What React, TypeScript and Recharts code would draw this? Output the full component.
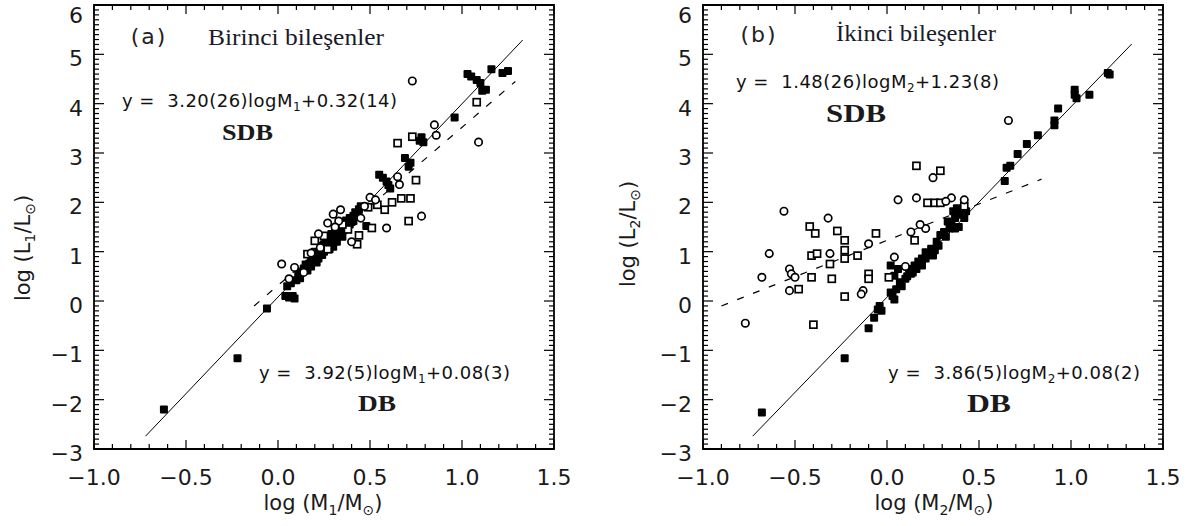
import {
  ReferenceArea,
  ReferenceLine,
  Scatter,
  ScatterChart,
  XAxis,
  YAxis,
} from 'recharts';

// ─── Axis ticks ───────────────────────────────────────────────────────────────

const X_MAJOR = [-1.0, -0.5, 0.0, 0.5, 1.0, 1.5];
const X_LABELS = ['−1.0', '−0.5', '0.0', '0.5', '1.0', '1.5'];
const Y_MAJOR = [-3, -2, -1, 0, 1, 2, 3, 4, 5, 6];
const Y_LABELS = ['−3', '−2', '−1', '0', '1', '2', '3', '4', '5', '6'];

function minorTicks(from: number, to: number, step: number): number[] {
  const n = Math.round((to - from) / step);
  return Array.from({ length: n + 1 }, (_, i) => Math.round((from + i * step) * 100) / 100);
}

const X_TICKS = minorTicks(-1.0, 1.5, 0.1);
const Y_TICKS = minorTicks(-3, 6, 0.1);

// ─── (a) Birinci bileşenler ──────────────────────────────────────────────────

const PRIMARY_DB: [number, number][] = [
  [-0.62, -2.2], [-0.22, -1.16], [-0.06, -0.15],
  [0.04, 0.1], [0.06, 0.07], [0.08, 0.1], [0.09, 0.05], [0.05, 0.3], [0.07, 0.36],
  [0.1, 0.42], [0.12, 0.46], [0.11, 0.56], [0.13, 0.6], [0.14, 0.66], [0.16, 0.62],
  [0.15, 0.74], [0.17, 0.76], [0.18, 0.83], [0.19, 0.9], [0.2, 0.86], [0.21, 0.96],
  [0.2, 1.0], [0.22, 0.86], [0.23, 1.05], [0.24, 0.93], [0.24, 1.12], [0.25, 1.0],
  [0.26, 1.2], [0.27, 1.14], [0.28, 1.28], [0.28, 1.05], [0.29, 1.36], [0.3, 1.22],
  [0.3, 1.1], [0.31, 1.4], [0.32, 1.3], [0.32, 1.2], [0.33, 1.46], [0.34, 1.52],
  [0.35, 1.42], [0.35, 1.3], [0.36, 1.56], [0.37, 1.63], [0.38, 1.5], [0.39, 1.68],
  [0.4, 1.6], [0.41, 1.73], [0.42, 1.8], [0.43, 1.76], [0.44, 1.86], [0.45, 1.92],
  [0.48, 1.52], [0.18, 0.7], [0.26, 1.08], [0.29, 1.18], [0.34, 1.38], [0.39, 1.55],
  [0.21, 0.78], [0.25, 1.15], [0.31, 1.28], [0.36, 1.45], [0.41, 1.62],
  [0.55, 2.56], [0.57, 2.5], [0.59, 2.42], [0.6, 2.35], [0.61, 2.28], [0.69, 2.9],
  [0.71, 2.72], [0.72, 2.8], [0.77, 3.25], [0.78, 3.32], [0.79, 3.22], [0.96, 3.72],
  [1.03, 4.6], [1.05, 4.55], [1.08, 4.48], [1.1, 4.42], [1.11, 4.26], [1.13, 4.28],
  [1.16, 4.7], [1.22, 4.62], [1.25, 4.66],
];

const PRIMARY_SDB_SQUARES: [number, number][] = [
  [0.65, 3.2], [0.73, 3.33], [0.75, 2.45], [0.67, 2.08], [0.72, 2.08], [0.71, 1.62],
  [0.51, 1.48], [0.54, 1.95], [0.43, 1.15], [1.08, 4.03], [0.44, 1.33], [0.38, 1.45],
  [0.25, 1.32], [0.2, 1.22], [0.16, 0.95], [0.49, 1.9], [0.58, 1.85], [0.62, 2.0],
  [0.35, 1.55], [0.27, 1.05],
];

const PRIMARY_SDB_CIRCLES: [number, number][] = [
  [0.02, 0.75], [0.73, 4.46], [1.09, 3.22], [0.85, 3.57], [0.86, 3.36], [0.65, 2.52],
  [0.66, 2.36], [0.78, 1.72], [0.59, 1.48], [0.5, 2.1], [0.4, 1.2], [0.34, 1.85],
  [0.27, 1.58], [0.22, 1.36], [0.23, 1.08], [0.47, 1.92], [0.53, 2.05], [0.45, 1.68],
  [0.3, 1.76], [0.33, 1.62], [0.14, 0.58], [0.09, 0.68], [0.18, 0.97], [0.06, 0.45],
  [0.31, 1.5],
];

// fit lines: DB y = 3.92x+0.08, SDB y = 3.20x+0.32
const PRIMARY_DB_FIT: [number, number][] = [[-0.72, -2.74], [1.33, 5.29]];
const PRIMARY_SDB_FIT: [number, number][] = [[-0.13, -0.1], [1.29, 4.45]];

// ─── (b) İkinci bileşenler ───────────────────────────────────────────────────

const SECONDARY_DB: [number, number][] = [
  [-0.68, -2.26], [-0.23, -1.16], [-0.1, -0.55], [-0.07, -0.34], [-0.04, -0.1],
  [-0.05, -0.17], [-0.03, -0.2],
  [0.02, 0.17], [0.03, 0.1], [0.04, 0.03], [0.05, 0.24], [0.02, 0.72], [0.04, 0.51],
  [0.07, 0.38], [0.06, 0.65], [0.1, 0.45], [0.12, 0.65], [0.15, 0.72], [0.16, 0.65],
  [0.14, 0.58], [0.19, 0.86], [0.19, 0.72], [0.21, 0.99], [0.21, 0.86], [0.24, 1.06],
  [0.25, 0.92], [0.26, 1.03], [0.27, 1.2], [0.29, 1.34], [0.31, 1.4], [0.33, 1.61],
  [0.34, 1.47], [0.35, 1.54], [0.36, 1.82], [0.37, 1.68], [0.37, 1.47], [0.38, 1.88],
  [0.39, 1.5], [0.4, 1.75], [0.42, 1.68], [0.43, 1.82], [0.08, 0.3], [0.11, 0.5],
  [0.17, 0.8], [0.23, 0.95], [0.28, 1.12], [0.32, 1.3], [0.13, 0.55],
  [0.64, 2.43], [0.65, 2.7], [0.67, 2.74], [0.71, 2.98], [0.76, 3.18], [0.82, 3.36],
  [0.91, 3.66], [0.91, 3.56], [0.93, 3.9], [1.02, 4.18], [1.02, 4.28], [1.03, 4.11],
  [1.1, 4.18], [1.2, 4.62], [1.21, 4.59],
];

const SECONDARY_SDB_SQUARES: [number, number][] = [
  [-0.48, 0.24], [-0.42, 1.51], [-0.39, 1.37], [-0.41, 0.92], [-0.38, 0.96],
  [-0.41, 0.48], [-0.4, -0.48], [-0.31, 0.75], [-0.3, 0.45], [-0.27, 1.42],
  [-0.23, 1.23], [-0.23, 1.03], [-0.23, 0.86], [-0.16, 0.92], [-0.23, 0.09],
  [-0.06, 1.37], [-0.1, 0.55], [-0.1, 0.45], [0.01, 0.48], [0.15, 1.23], [0.16, 2.74],
  [0.22, 1.99], [0.29, 2.64], [0.26, 1.99], [0.29, 1.99], [0.42, 1.92],
];

const SECONDARY_SDB_CIRCLES: [number, number][] = [
  [-0.77, -0.45], [-0.68, 0.48], [-0.64, 0.96], [-0.56, 1.82], [-0.53, 0.65],
  [-0.52, 0.55], [-0.5, 0.48], [-0.53, 0.21], [-0.32, 1.68], [-0.31, 0.96],
  [-0.13, 0.21], [-0.14, 0.14], [-0.1, 1.16], [0.04, 0.89], [0.06, 2.05], [0.13, 1.4],
  [0.16, 2.09], [0.21, 1.47], [0.25, 2.5], [0.35, 2.09], [0.32, 2.02], [0.42, 2.05],
  [0.66, 3.66], [0.18, 1.55], [0.1, 0.7],
];

// fit lines: DB y = 3.86x+0.08, SDB y = 1.48x+1.23
const SECONDARY_DB_FIT: [number, number][] = [[-0.73, -2.74], [1.33, 5.21]];
const SECONDARY_SDB_FIT: [number, number][] = [[-0.9, -0.1], [0.84, 2.47]];

// ─── Layout ──────────────────────────────────────────────────────────────────

const CHART_H = 526;
const PLOT_W = 460;
const PLOT_H = 444;
const TICK_FONT = '"DejaVu Sans", sans-serif';
const SERIF = '"Liberation Serif", "Times New Roman", serif';
const INK = '#111';

const toPoints = (rows: [number, number][]) => rows.map(([x, y]) => ({ x, y }));
const toSegment = (rows: [number, number][]) => rows.map(([x, y]) => ({ x, y }));

function isMajor(v: number, list: number[]): number {
  return list.findIndex((m) => Math.abs(m - v) < 1e-6);
}

function XTick(props: any) {
  const { x, y, payload } = props;
  const idx = isMajor(payload.value, X_MAJOR);
  const len = idx >= 0 ? 9 : 5;
  return (
    <g>
      <line x1={x} x2={x} y1={y} y2={y - len} stroke="#000" strokeWidth={1.2} />
      <line x1={x} x2={x} y1={y - PLOT_H} y2={y - PLOT_H + len} stroke="#000" strokeWidth={1.2} />
      {idx >= 0 && (
        <text x={x} y={y + 36} textAnchor="middle" fontFamily={TICK_FONT} fontSize={22} fill="#1a1a1a">
          {X_LABELS[idx]}
        </text>
      )}
    </g>
  );
}

function YTick(props: any) {
  const { x, y, payload } = props;
  const idx = isMajor(payload.value, Y_MAJOR);
  const len = idx >= 0 ? 10 : 5;
  // keep the top label ("6") inside the picture
  const labelY = Math.max(y + 12, 23);
  return (
    <g>
      <line x1={x} x2={x + len} y1={y} y2={y} stroke="#000" strokeWidth={1.2} />
      <line x1={x + PLOT_W} x2={x + PLOT_W - len} y1={y} y2={y} stroke="#000" strokeWidth={1.2} />
      {idx >= 0 && (
        <text x={x - 11} y={labelY} textAnchor="end" fontFamily={TICK_FONT} fontSize={22} fill="#1a1a1a">
          {Y_LABELS[idx]}
        </text>
      )}
    </g>
  );
}

const FilledMark = (p: any) => (
  <rect x={p.cx - 4} y={p.cy - 4} width={8} height={8} rx={1} fill="#000" />
);
const OpenSquare = (p: any) => (
  <rect x={p.cx - 3.5} y={p.cy - 3.5} width={7} height={7} fill="#fff" stroke="#000" strokeWidth={1.7} />
);
const OpenCircle = (p: any) => (
  <circle cx={p.cx} cy={p.cy} r={3.7} fill="#fff" stroke="#000" strokeWidth={1.7} />
);

interface PanelProps {
  left: number;
  width: number;
  marginLeft: number;
  db: [number, number][];
  sdbSquares: [number, number][];
  sdbCircles: [number, number][];
  dbFit: [number, number][];
  sdbFit: [number, number][];
}

function Panel(p: PanelProps) {
  const marginRight = p.width - p.marginLeft - 60 - PLOT_W;
  return (
    <div style={{ position: 'absolute', left: p.left, top: 0 }}>
      <ScatterChart
        width={p.width}
        height={CHART_H}
        margin={{ top: 5, right: marginRight, bottom: 31, left: p.marginLeft }}
      >
        <XAxis
          type="number"
          dataKey="x"
          domain={[-1, 1.5]}
          ticks={X_TICKS}
          interval={0}
          allowDataOverflow
          axisLine={false}
          tickLine={false}
          tickSize={0}
          tickMargin={0}
          height={46}
          tick={(t: any) => <XTick {...t} />}
        />
        <YAxis
          type="number"
          dataKey="y"
          domain={[-3, 6]}
          ticks={Y_TICKS}
          interval={0}
          allowDataOverflow
          axisLine={false}
          tickLine={false}
          tickSize={0}
          tickMargin={0}
          width={60}
          tick={(t: any) => <YTick {...t} />}
        />
        <ReferenceArea x1={-1} x2={1.5} y1={-3} y2={6} fill="none" stroke="#000" strokeWidth={1.8} />
        <ReferenceLine segment={toSegment(p.dbFit)} stroke="#000" strokeWidth={1} />
        <ReferenceLine
          segment={toSegment(p.sdbFit)}
          stroke="#000"
          strokeWidth={1.2}
          strokeDasharray="7 10"
        />
        <Scatter data={toPoints(p.db)} shape={FilledMark} isAnimationActive={false} />
        <Scatter data={toPoints(p.sdbSquares)} shape={OpenSquare} isAnimationActive={false} />
        <Scatter data={toPoints(p.sdbCircles)} shape={OpenCircle} isAnimationActive={false} />
      </ScatterChart>
    </div>
  );
}

// ─── Annotations (panel-local pixels) ─────────────────────────────────────────

const SUB = { dy: 5, fontSize: 14 };

function AxisTitles({ idx, yx, yy, xx }: { idx: string; yx: number; yy: number; xx: number }) {
  return (
    <>
      <text
        x={yx}
        y={yy}
        transform={`rotate(-90, ${yx}, ${yy})`}
        textAnchor="middle"
        fontFamily={TICK_FONT}
        fontSize={21}
        fill="#1a1a1a"
      >
        log  (L<tspan dy={SUB.dy} fontSize={SUB.fontSize}>{idx}</tspan>
        <tspan dy={-SUB.dy}>/L</tspan>
        <tspan dy={SUB.dy} fontSize={SUB.fontSize}>⊙</tspan>
        <tspan dy={-SUB.dy}>)</tspan>
      </text>
      <text x={xx} y={510} textAnchor="middle" fontFamily={TICK_FONT} fontSize={21} fill="#1a1a1a">
        log  (M<tspan dy={SUB.dy} fontSize={SUB.fontSize}>{idx}</tspan>
        <tspan dy={-SUB.dy}>/M</tspan>
        <tspan dy={SUB.dy} fontSize={SUB.fontSize}>⊙</tspan>
        <tspan dy={-SUB.dy}>)</tspan>
      </text>
    </>
  );
}

interface EquationProps {
  x: number;
  y: number;
  width: number;
  pre: string;
  idx: string;
  post: string;
}

function Equation({ x, y, width, pre, idx, post }: EquationProps) {
  return (
    <text
      x={x}
      y={y}
      fontFamily={TICK_FONT}
      fontSize={18}
      fill={INK}
      xmlSpace="preserve"
      textLength={width}
      lengthAdjust="spacing"
    >
      {pre}
      <tspan dy={4} fontSize={12}>{idx}</tspan>
      <tspan dy={-4}>{post}</tspan>
    </text>
  );
}

function LeftNotes() {
  return (
    <svg width={596} height={CHART_H} style={{ position: 'absolute', left: 0, top: 0, pointerEvents: 'none' }}>
      <text x={149} y={44} textAnchor="middle" fontFamily={TICK_FONT} fontSize={22} fill="#222" letterSpacing={2}>
        (a)
      </text>
      <text x={208} y={45} fontFamily={SERIF} fontSize={23} fill="#1a1a2a" textLength={176} lengthAdjust="spacingAndGlyphs">
        Birinci bileşenler
      </text>
      <Equation x={122} y={107} width={275} pre="y =  3.20(26)logM" idx="1" post="+0.32(14)" />
      <text x={222} y={140} fontFamily={SERIF} fontSize={24} fontWeight="bold" fill="#1a1a1a" textLength={51} lengthAdjust="spacingAndGlyphs">
        SDB
      </text>
      <Equation x={259} y={379} width={251} pre="y =  3.92(5)logM" idx="1" post="+0.08(3)" />
      <text x={358} y={411} fontFamily={SERIF} fontSize={24} fontWeight="bold" fill="#1a1a1a" textLength={38} lengthAdjust="spacingAndGlyphs">
        DB
      </text>
      <AxisTitles idx="1" yx={30} yy={248} xx={323} />
    </svg>
  );
}

function RightNotes() {
  return (
    <svg width={597} height={CHART_H} style={{ position: 'absolute', left: 596, top: 0, pointerEvents: 'none' }}>
      <text x={163} y={42} textAnchor="middle" fontFamily={TICK_FONT} fontSize={22} fill="#222" letterSpacing={2}>
        (b)
      </text>
      <text x={240} y={41} fontFamily={SERIF} fontSize={23} fill="#1a1a2a" textLength={160} lengthAdjust="spacingAndGlyphs">
        İkinci bileşenler
      </text>
      <Equation x={140} y={88} width={263} pre="y =  1.48(26)logM" idx="2" post="+1.23(8)" />
      <text x={230} y={122} fontFamily={SERIF} fontSize={25} fontWeight="bold" fill="#1a1a1a" textLength={60} lengthAdjust="spacingAndGlyphs">
        SDB
      </text>
      <Equation x={292} y={379} width={252} pre="y =  3.86(5)logM" idx="2" post="+0.08(2)" />
      <text x={371} y={412} fontFamily={SERIF} fontSize={25} fontWeight="bold" fill="#1a1a1a" textLength={44} lengthAdjust="spacingAndGlyphs">
        DB
      </text>
      <AxisTitles idx="2" yx={39} yy={234} xx={338} />
    </svg>
  );
}

export default function App() {
  return (
    <div
      style={{
        position: 'absolute',
        left: 0,
        top: 0,
        width: 1193,
        height: CHART_H,
        background: '#fff',
        overflow: 'hidden',
      }}
    >
      <Panel
        left={0}
        width={596}
        marginLeft={34}
        db={PRIMARY_DB}
        sdbSquares={PRIMARY_SDB_SQUARES}
        sdbCircles={PRIMARY_SDB_CIRCLES}
        dbFit={PRIMARY_DB_FIT}
        sdbFit={PRIMARY_SDB_FIT}
      />
      <Panel
        left={596}
        width={597}
        marginLeft={47}
        db={SECONDARY_DB}
        sdbSquares={SECONDARY_SDB_SQUARES}
        sdbCircles={SECONDARY_SDB_CIRCLES}
        dbFit={SECONDARY_DB_FIT}
        sdbFit={SECONDARY_SDB_FIT}
      />
      <LeftNotes />
      <RightNotes />
    </div>
  );
}
